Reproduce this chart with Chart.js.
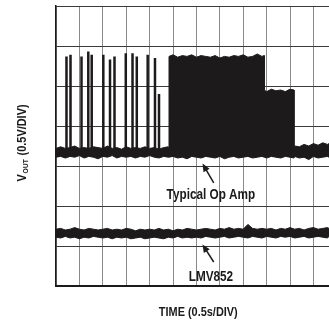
<!DOCTYPE html>
<html>
<head>
<meta charset="utf-8">
<script src="https://cdn.jsdelivr.net/npm/chart.js@4"></script>
<style>
	html, body { margin: 0; padding: 0; background: #fff; overflow: hidden; }
	#wrap { width: 329px; height: 325px; position: relative; }
</style>
</head>
<body>
<div id="wrap"><canvas id="scopeChart"></canvas></div>
<script>
// time in s (0.5s/div), voltage in V (0.5V/div)
const opAmpTimes = [
	0, 0.1, 0.2, 0.3, 0.4, 0.5, 0.6, 0.7, 0.8, 0.9,
	1.0, 1.1, 1.2, 1.3, 1.4, 1.5, 1.6, 1.7, 1.8, 1.9,
	2.0, 2.1, 2.2, 2.3, 2.4, 2.415,
	2.415, 2.5, 2.6, 2.7, 2.8, 2.9, 3.0, 3.1, 3.2, 3.3, 3.4, 3.5, 3.6, 3.7, 3.8, 3.9, 4.0, 4.1, 4.2, 4.3, 4.4, 4.45,
	4.45, 4.5, 4.6, 4.7, 4.8, 4.9, 5.0, 5.085,
	5.085, 5.1, 5.2, 5.3, 5.4, 5.5, 5.6, 5.7, 5.8, 5.833,
];
const opAmpHigh = [
	1.72, 1.74, 1.72, 1.73, 1.75, 1.72, 1.73, 1.72, 1.74, 1.73,
	1.72, 1.75, 1.72, 1.73, 1.71, 1.74, 1.72, 1.73, 1.72, 1.74,
	1.72, 1.73, 1.71, 1.73, 1.74, 1.73,
	2.87, 2.89, 2.86, 2.88, 2.87, 2.89, 2.86, 2.88, 2.87, 2.86, 2.88, 2.85, 2.87, 2.86, 2.88, 2.87, 2.89, 2.86, 2.87, 2.9, 2.87, 2.88,
	2.45, 2.43, 2.46, 2.44, 2.45, 2.43, 2.46, 2.45,
	1.74, 1.75, 1.74, 1.77, 1.75, 1.78, 1.76, 1.79, 1.77, 1.78,
];
const opAmpLow = [
	1.61, 1.62, 1.6, 1.62, 1.61, 1.63, 1.6, 1.62, 1.61, 1.59,
	1.62, 1.61, 1.63, 1.6, 1.62, 1.61, 1.62, 1.6, 1.62, 1.61,
	1.63, 1.61, 1.6, 1.62, 1.61, 1.61,
	1.61, 1.62, 1.6, 1.61, 1.59, 1.62, 1.61, 1.6, 1.62, 1.61, 1.6, 1.62, 1.59, 1.61, 1.62, 1.6, 1.61, 1.62, 1.6, 1.61, 1.62, 1.61,
	1.61, 1.6, 1.62, 1.61, 1.6, 1.62, 1.61, 1.6,
	1.6, 1.62, 1.6, 1.61, 1.58, 1.62, 1.6, 1.61, 1.62, 1.61,
];

// bursts of the typical op amp before the solid block
const spikeTimes = [0.224, 0.31, 0.545, 0.69, 0.763, 1.011, 1.154, 1.25, 1.491, 1.635, 1.726, 1.959, 2.115, 2.201];
const spikePeaks = [2.87, 2.89, 2.87, 2.93, 2.89, 2.89, 2.83, 2.87, 2.91, 2.91, 2.87, 2.89, 2.85, 2.4];
const spikeBase = 1.67;

const lmvTimes = [
	0, 0.1, 0.2, 0.3, 0.4, 0.5, 0.6, 0.7, 0.8, 0.9,
	1.0, 1.1, 1.2, 1.3, 1.4, 1.5, 1.6, 1.7, 1.8, 1.9,
	2.0, 2.1, 2.2, 2.3, 2.4, 2.5, 2.6, 2.7, 2.8, 2.9,
	3.0, 3.1, 3.2, 3.3, 3.4, 3.5, 3.6, 3.7, 3.8, 3.9,
	4.0, 4.1, 4.2, 4.3, 4.4, 4.5, 4.6, 4.7, 4.8, 4.9,
	5.0, 5.1, 5.2, 5.3, 5.4, 5.5, 5.6, 5.7, 5.8, 5.833,
];
const lmvHigh = [
	0.71, 0.72, 0.7, 0.71, 0.73, 0.71, 0.7, 0.72, 0.71, 0.7,
	0.71, 0.72, 0.7, 0.71, 0.7, 0.72, 0.71, 0.69, 0.71, 0.7,
	0.71, 0.7, 0.72, 0.7, 0.71, 0.69, 0.71, 0.7, 0.72, 0.71,
	0.7, 0.71, 0.72, 0.71, 0.7, 0.72, 0.71, 0.73, 0.71, 0.72,
	0.71, 0.77, 0.72, 0.71, 0.72, 0.71, 0.72, 0.7, 0.72, 0.71,
	0.73, 0.71, 0.72, 0.7, 0.72, 0.73, 0.71, 0.72, 0.73, 0.72,
];
const lmvLow = [
	0.61, 0.6, 0.62, 0.6, 0.61, 0.59, 0.61, 0.6, 0.62, 0.61,
	0.6, 0.61, 0.59, 0.61, 0.6, 0.61, 0.59, 0.6, 0.61, 0.59,
	0.6, 0.61, 0.6, 0.59, 0.61, 0.6, 0.62, 0.6, 0.61, 0.6,
	0.61, 0.6, 0.62, 0.61, 0.6, 0.61, 0.62, 0.6, 0.61, 0.62,
	0.61, 0.6, 0.62, 0.61, 0.6, 0.62, 0.61, 0.6, 0.62, 0.61,
	0.62, 0.6, 0.61, 0.62, 0.6, 0.61, 0.62, 0.61, 0.6, 0.62,
];

// callouts: label position, arrow tip, arrow tail (data units)
const calloutLabels = ['Typical Op Amp', 'LMV852'];
const calloutAt = [[3.31, 1.14], [3.31, 0.115]];
const arrowTips = [[3.13, 1.53], [3.13, 0.52]];
const arrowTails = [[3.37, 1.29], [3.37, 0.3]];

const xTitle = 'TIME (0.5s/DIV)';
const yTitle = ['V', 'OUT', ' (0.5V/DIV)'];

const ink = '#1c1a1a';
const boldFace = '"Liberation Sans Narrow", "Arial Narrow", "Liberation Sans", Arial, sans-serif';
const squeeze = 0.84; // condensed look of the original lettering

const toPoints = (xs, ys) => xs.map((x, i) => ({ x: x, y: ys[i] }));

const spikePoints = spikeTimes.flatMap((t, i) => [
	{ x: t, y: spikeBase },
	{ x: t, y: spikePeaks[i] },
	{ x: t, y: null },
]);

function narrowText(ctx, text, x, y) {
	ctx.save();
	ctx.translate(x, y);
	ctx.scale(squeeze, 1);
	ctx.fillText(text, 0, 0);
	ctx.restore();
}

// draws the axis titles and the two callouts
const labelPlugin = {
	id: 'scopeLabels',
	afterDraw(chart) {
		const ctx = chart.ctx;
		const xs = chart.scales.x;
		const ys = chart.scales.y;
		ctx.save();
		ctx.fillStyle = ink;
		ctx.strokeStyle = ink;

		// callouts
		ctx.font = 'bold 14px ' + boldFace;
		ctx.textAlign = 'center';
		ctx.textBaseline = 'middle';
		calloutLabels.forEach((text, i) => {
			narrowText(ctx, text, xs.getPixelForValue(calloutAt[i][0]), ys.getPixelForValue(calloutAt[i][1]));
			const tx = xs.getPixelForValue(arrowTips[i][0]);
			const ty = ys.getPixelForValue(arrowTips[i][1]);
			const sx = xs.getPixelForValue(arrowTails[i][0]);
			const sy = ys.getPixelForValue(arrowTails[i][1]);
			const ang = Math.atan2(ty - sy, tx - sx);
			ctx.lineWidth = 1.5;
			ctx.beginPath();
			ctx.moveTo(sx, sy);
			ctx.lineTo(tx - 5 * Math.cos(ang), ty - 5 * Math.sin(ang));
			ctx.stroke();
			ctx.beginPath();
			ctx.moveTo(tx, ty);
			ctx.lineTo(tx - 8 * Math.cos(ang) + 3.5 * Math.sin(ang), ty - 8 * Math.sin(ang) - 3.5 * Math.cos(ang));
			ctx.lineTo(tx - 8 * Math.cos(ang) - 3.5 * Math.sin(ang), ty - 8 * Math.sin(ang) + 3.5 * Math.cos(ang));
			ctx.closePath();
			ctx.fill();
		});

		// x title
		ctx.font = 'bold 13px ' + boldFace;
		narrowText(ctx, xTitle, xs.getPixelForValue(3.04), chart.height - 13);

		// y title with subscript, rotated
		const big = 'bold 13px ' + boldFace;
		const small = 'bold 8px ' + boldFace;
		ctx.font = big;
		const w0 = ctx.measureText(yTitle[0]).width;
		const w2 = ctx.measureText(yTitle[2]).width;
		ctx.font = small;
		const w1 = ctx.measureText(yTitle[1]).width + 1;
		const total = w0 + 1 + w1 + w2;
		ctx.translate(21, (ys.top + ys.bottom) / 2 - 3);
		ctx.rotate(-Math.PI / 2);
		ctx.scale(squeeze, 1);
		ctx.textAlign = 'left';
		ctx.textBaseline = 'alphabetic';
		let px = -total / 2;
		ctx.font = big;
		ctx.fillText(yTitle[0], px, 5);
		px += w0 + 1;
		ctx.font = small;
		ctx.fillText(yTitle[1], px, 7);
		px += w1;
		ctx.font = big;
		ctx.fillText(yTitle[2], px, 5);
		ctx.restore();
	},
};

new Chart(document.getElementById('scopeChart'), {
	type: 'line',
	data: {
		datasets: [
			{
				label: 'Typical Op Amp (upper)',
				data: toPoints(opAmpTimes, opAmpHigh),
				borderColor: ink,
				backgroundColor: ink,
				borderWidth: 1,
				fill: '+1',
			},
			{
				label: 'Typical Op Amp (lower)',
				data: toPoints(opAmpTimes, opAmpLow),
				borderColor: ink,
				borderWidth: 1,
				fill: false,
			},
			{
				label: 'LMV852 (upper)',
				data: toPoints(lmvTimes, lmvHigh),
				borderColor: ink,
				backgroundColor: ink,
				borderWidth: 1,
				fill: '+1',
			},
			{
				label: 'LMV852 (lower)',
				data: toPoints(lmvTimes, lmvLow),
				borderColor: ink,
				borderWidth: 1,
				fill: false,
			},
			{
				label: 'Typical Op Amp (bursts)',
				data: spikePoints,
				borderColor: ink,
				borderWidth: 2.5,
				spanGaps: false,
				fill: false,
			},
		],
	},
	options: {
		responsive: true,
		maintainAspectRatio: false,
		animation: false,
		events: [],
		layout: {
			padding: { left: 56, top: 6, right: 0, bottom: 39 },
		},
		elements: {
			point: { radius: 0 },
			line: { tension: 0 },
		},
		plugins: {
			legend: { display: false },
			tooltip: { enabled: false },
		},
		scales: {
			x: {
				type: 'linear',
				min: 0,
				max: 5.833,
				ticks: { display: false, stepSize: 0.5, includeBounds: false },
				grid: { drawTicks: false, color: '#8a8a8a', lineWidth: 1 },
				border: { display: true, color: ink, width: 2 },
			},
			y: {
				type: 'linear',
				min: 0,
				max: 3.5,
				ticks: { display: false, stepSize: 0.5 },
				grid: { drawTicks: false, color: '#3a3a3a', lineWidth: 1 },
				border: { display: true, color: ink, width: 1.5 },
			},
		},
	},
	plugins: [labelPlugin],
});
</script>
</body>
</html>
